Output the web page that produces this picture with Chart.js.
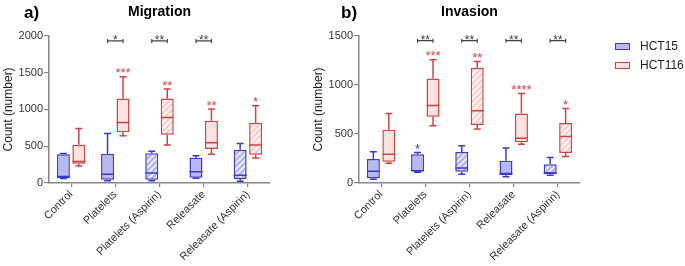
<!DOCTYPE html>
<html>
<head>
<meta charset="utf-8">
<script src="https://cdn.jsdelivr.net/npm/chart.js@4/dist/chart.umd.min.js"></script>
<style>
  body { margin: 0; background: #fff; font-family: "Liberation Sans", Arial, sans-serif; }
  #wrap { position: relative; width: 685px; height: 266px; overflow: hidden; }
  canvas { position: absolute; top: 0; }
  .panel { position: absolute; top: 4px; font-weight: bold; font-size: 17px; line-height: 17px; color: #000; }
  .leg { position: absolute; left: 615px; font-size: 12px; line-height: 12px; color: #222; }
  .leg span { position: absolute; left: 0; width: 13px; height: 5px; border: 1px solid; }
  .leg b { position: absolute; left: 25px; font-weight: normal; white-space: nowrap; }
</style>
</head>
<body>
<div id="wrap">
  <canvas id="migration" width="310" height="266" style="left:0"></canvas>
  <canvas id="invasion" width="375" height="266" style="left:310px"></canvas>
  <div class="panel" style="left:24px">a)</div>
  <div class="panel" style="left:341px">b)</div>
  <div class="leg" style="top:43px"><span style="background:#b9b9f2;border-color:#3a3acb"></span><b style="top:-3px">HCT15</b></div>
  <div class="leg" style="top:62px"><span style="background:#fde2e2;border-color:#cc4444"></span><b style="top:-3px">HCT116</b></div>
</div>
<script>
// categories + box stats [min, q1, median, q3, max]
var categories = ['Control', 'Platelets', 'Platelets (Aspirin)', 'Releasate', 'Releasate (Aspirin)'];
var hatched = [false, false, true, false, true];

var migrationHCT15 = [[60, 65, 90, 390, 400], [32, 45, 118, 398, 674], [32, 45, 136, 403, 430], [63, 72, 154, 344, 371], [23, 54, 104, 452, 538]];
var migrationHCT116 = [[230, 262, 292, 520, 740], [643, 688, 823, 1149, 1443], [516, 656, 891, 1149, 1276], [389, 462, 548, 846, 1005], [339, 385, 516, 819, 1050]];
var invasionHCT15 = [[37, 48, 119, 244, 319], [109, 119, 126, 292, 312], [88, 115, 153, 316, 380], [64, 78, 98, 227, 356], [78, 88, 105, 190, 261]];
var invasionHCT116 = [[200, 217, 292, 543, 709], [584, 675, 791, 1066, 1256], [550, 590, 736, 1174, 1239], [394, 414, 455, 709, 913], [271, 305, 475, 611, 760]];

// significance marks
var migrationStars15 = ['', '', '', '', ''];
var migrationStars116 = ['', '***', '**', '**', '*'];
var migrationPairStars = ['', '*', '**', '**', ''];
var invasionStars15 = ['', '*', '', '', ''];
var invasionStars116 = ['', '***', '**', '****', '*'];
var invasionPairStars = ['', '**', '**', '**', '**'];

var migrationTicks = [0, 500, 1000, 1500, 2000];
var invasionTicks = [0, 500, 1000, 1500];

Chart.defaults.font.family = '"Liberation Sans", Arial, sans-serif';
Chart.defaults.color = '#333';

var blue = '#3a3acb', blueFill = '#b9b9f2';
var red = '#cc4444', redFill = '#fde2e2';

function stripes(bg, fg) {
  var c = document.createElement('canvas');
  c.width = 6; c.height = 6;
  var x = c.getContext('2d');
  x.fillStyle = bg;
  x.fillRect(0, 0, 6, 6);
  x.strokeStyle = fg;
  x.lineWidth = 2.2;
  [0, 6, 12].forEach(function (s) {
    x.beginPath();
    x.moveTo(-1, s + 1);
    x.lineTo(s + 1, -1);
    x.stroke();
  });
  return x.createPattern(c, 'repeat');
}

var blueHatch = stripes('#ececfb', '#b0b0ee');
var redHatch = stripes('#fff6f6', '#f8cccc');

// whiskers, medians, stars and brackets on top of the floating bars
var boxPlugin = {
  id: 'boxWhiskers',
  afterDatasetsDraw: function (chart) {
    var ctx = chart.ctx, y = chart.scales.y;
    var opts = chart.options.plugins.boxWhiskers;
    ctx.save();
    ctx.lineWidth = 1.5;
    chart.data.datasets.forEach(function (ds, di) {
      var meta = chart.getDatasetMeta(di);
      meta.data.forEach(function (bar, i) {
        var s = ds.stats[i];
        var x = bar.x, hw = bar.width / 2;
        ctx.strokeStyle = ds.borderColor;
        ctx.beginPath();
        ctx.moveTo(x, y.getPixelForValue(s[3])); ctx.lineTo(x, y.getPixelForValue(s[4]));
        ctx.moveTo(x, y.getPixelForValue(s[1])); ctx.lineTo(x, y.getPixelForValue(s[0]));
        ctx.moveTo(x - 3.5, y.getPixelForValue(s[4])); ctx.lineTo(x + 3.5, y.getPixelForValue(s[4]));
        ctx.moveTo(x - 3.5, y.getPixelForValue(s[0])); ctx.lineTo(x + 3.5, y.getPixelForValue(s[0]));
        ctx.moveTo(x - hw, y.getPixelForValue(s[2])); ctx.lineTo(x + hw, y.getPixelForValue(s[2]));
        ctx.stroke();
        if (ds.stars[i]) {
          ctx.fillStyle = ds.borderColor;
          ctx.font = '13px "Liberation Sans", Arial';
          ctx.textAlign = 'center';
          ctx.textBaseline = 'alphabetic';
          ctx.fillText(ds.stars[i], x, y.getPixelForValue(s[4]) + 0.5);
        }
      });
    });
    // brackets between the two cell lines
    var m0 = chart.getDatasetMeta(0), m1 = chart.getDatasetMeta(1);
    var by = y.getPixelForValue(opts.bracketAt);
    ctx.strokeStyle = '#444';
    ctx.fillStyle = '#444';
    ctx.lineWidth = 1.2;
    opts.pairStars.forEach(function (st, i) {
      if (!st) return;
      var x0 = m0.data[i].x, x1 = m1.data[i].x;
      ctx.beginPath();
      ctx.moveTo(x0, by - 2); ctx.lineTo(x0, by + 2);
      ctx.moveTo(x0, by); ctx.lineTo(x1, by);
      ctx.moveTo(x1, by - 2); ctx.lineTo(x1, by + 2);
      ctx.stroke();
      ctx.font = '12px "Liberation Sans", Arial';
      ctx.textAlign = 'center';
      ctx.fillText(st, (x0 + x1) / 2, by + 3);
    });
    ctx.restore();
  }
};

function makePanel(id, title, ticks, hct15, hct116, stars15, stars116, pairStars, bracketAt, padRight) {
  return new Chart(document.getElementById(id), {
    type: 'bar',
    data: {
      labels: categories,
      datasets: [
        {
          label: 'HCT15',
          data: hct15.map(function (b) { return [b[1], b[3]]; }),
          stats: hct15,
          stars: stars15,
          backgroundColor: hatched.map(function (h) { return h ? blueHatch : blueFill; }),
          borderColor: blue,
          borderWidth: 1.5,
          borderSkipped: false,
          categoryPercentage: 0.7,
          barPercentage: 0.84
        },
        {
          label: 'HCT116',
          data: hct116.map(function (b) { return [b[1], b[3]]; }),
          stats: hct116,
          stars: stars116,
          backgroundColor: hatched.map(function (h) { return h ? redHatch : redFill; }),
          borderColor: red,
          borderWidth: 1.5,
          borderSkipped: false,
          categoryPercentage: 0.7,
          barPercentage: 0.84
        }
      ]
    },
    options: {
      responsive: false,
      animation: false,
      devicePixelRatio: 1,
      layout: { padding: { left: 0, right: padRight, top: 0, bottom: 0 } },
      plugins: {
        legend: { display: false },
        tooltip: { enabled: false },
        title: {
          display: true,
          text: title,
          fullSize: false,
          color: '#000',
          font: { size: 14, weight: 'bold' },
          padding: { top: 4, bottom: 15 }
        },
        boxWhiskers: { pairStars: pairStars, bracketAt: bracketAt }
      },
      scales: {
        x: {
          afterFit: function (s) { s.height = 83; },
          border: { display: true, color: '#888', width: 1.5 },
          grid: { drawOnChartArea: false, drawTicks: true, offset: false, tickLength: 4, color: '#888', lineWidth: 1.2 },
          ticks: { minRotation: 45, maxRotation: 45, padding: 1, font: { size: 11 }, color: '#333' }
        },
        y: {
          min: 0,
          max: ticks[ticks.length - 1],
          afterFit: function (s) { s.width = 49; },
          afterBuildTicks: function (s) { s.ticks = ticks.map(function (v) { return { value: v }; }); },
          border: { display: true, color: '#888', width: 1.5 },
          grid: { drawOnChartArea: false, drawTicks: true, tickLength: 5, color: '#888', lineWidth: 1.2 },
          ticks: { padding: 1, font: { size: 11 }, color: '#333', callback: function (v) { return String(v); } },
          title: { display: true, text: 'Count (number)', font: { size: 12 }, color: '#222', padding: { top: 1, bottom: 0 } }
        }
      }
    },
    plugins: [boxPlugin]
  });
}

makePanel('migration', 'Migration', migrationTicks, migrationHCT15, migrationHCT116, migrationStars15, migrationStars116, migrationPairStars, 1930, 40);
makePanel('invasion', 'Invasion', invasionTicks, invasionHCT15, invasionHCT116, invasionStars15, invasionStars116, invasionPairStars, 1450, 105);
</script>
</body>
</html>
